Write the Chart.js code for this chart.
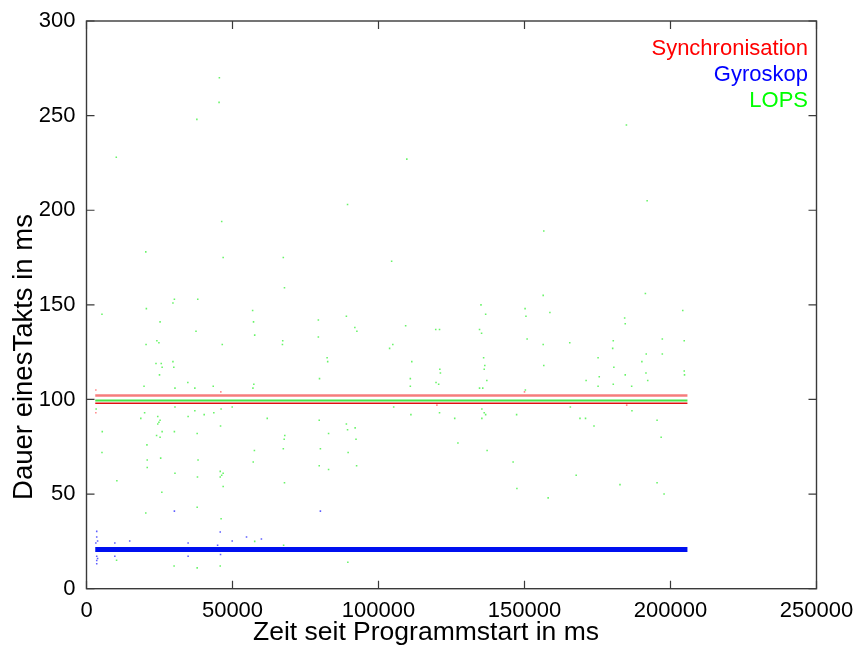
<!DOCTYPE html>
<html><head><meta charset="utf-8">
<script src="https://cdn.jsdelivr.net/npm/chart.js@4/dist/chart.umd.min.js"></script>
<style>html,body{margin:0;padding:0;background:#fff;}#wrap{width:858px;height:645px;}</style>
</head><body><div id="wrap"><canvas id="c" width="858" height="645"></canvas></div>
<script>
// ---- data ----
const seriesNames = ['Synchronisation', 'Gyroskop', 'LOPS'];
const xTickValues = [0, 50000, 100000, 150000, 200000, 250000];
const yTickValues = [0, 50, 100, 150, 200, 250, 300];
const xAxisTitle = 'Zeit seit Programmstart in ms';
const yAxisTitle = 'Dauer einesTakts in ms';
// time span of the dense recorded bands (start, end)
const recordingSpan = [3000, 205800];
// dense band levels (value at start, value at end)
const syncUpperBand = [102.1, 102.1];
const syncLowerBand = [98.0, 98.0];
const lopsBand = [99.5, 99.5];
const gyroBand = [20.7, 20.7];
// scattered single measurements [time, duration]
const syncOutliers = [[3200,105],[3200,93],[46000,104],[120000,97],[150000,104],[185000,97]];
const gyroOutliers = [[3500,30.3],[3500,27.3],[3800,25.2],[3200,24.1],[3500,17.1],[3800,16],[3500,14.9],[3500,13.2],
  [9700,24.1],[9700,17.1],[14800,25.2],[34800,24.1],[34800,17.1],[45800,30],[44900,23],[45900,18.1],
  [49900,25.2],[54800,27.3],[59900,26.3],[30100,41],[80100,41]];
const lopsOutliers = [
  [45500,270],[45400,257],[37800,248],[10200,228],[109700,227],[89400,203],[46300,194],[20300,178],[46800,175],[67400,175],
  [104500,173],[67800,159],[30100,153],[38100,153],[29600,151],[20500,148],[5300,145],[56900,147],[89000,144],[25200,141],
  [57200,141],[79400,142],[109300,139],[91900,138],[119600,137],[120900,137],[92600,136],[37500,136],[57600,134],[79400,133],
  [24100,131],[24800,130],[67200,131],[67100,129],[20400,129],[46500,129],[104900,129],[103800,127],[82400,122],[82600,120],
  [111400,120],[23800,119],[25600,119],[25900,117],[29600,120],[29900,117],[121000,116],[121200,114],[25000,113],[79800,111],
  [110900,111],[184900,245],[192000,205],[156600,189],[156400,155],[191400,156],[135100,150],[150200,148],[136700,145],[150500,144],
  [158700,146],[204200,147],[184300,143],[184500,140],[134600,137],[135300,135],[150900,132],[197200,132],[204700,131],[180400,131],
  [180200,127],[156400,129],[165500,130],[191700,124],[197200,124],[136000,122],[175200,122],[190200,120],[136400,118],[136200,116],
  [156600,118],[180600,117],[204700,115],[204800,113],[184500,113],[191600,114],[175600,112],
  [19700,107],[34700,109],[30300,106],[37100,106],[43400,107],[57300,108],[57000,106],[3300,95],[19900,93],[24400,91],
  [18600,90],[30300,96],[37100,94],[34800,91],[40300,92],[43600,93],[46100,95],[49900,96],[61900,90],
  [110900,107],[119700,109],[120600,108],[134600,106],[135700,106],[137100,110],[171100,110],[175200,107],[180400,108],[186700,107],
  [192200,110],[150300,105],[105200,96],[111100,92],[120900,93],[135400,95],[136200,93],[136700,92],[147300,92],[165700,96],
  [169000,90],[170900,90],[186800,94],[126100,90],[135400,90],
  [5400,83],[5300,72],[20700,76],[24000,81],[25200,80],[24400,87],[24800,88],[25200,89],[25900,83],[30100,83],
  [37900,82],[20800,68],[20800,64],[25400,69],[38200,68],[45900,86],[30300,61],[45800,62],[46800,61],[46300,60],
  [45800,59],[10400,57],[38000,59],[46800,54],[25800,51],[20300,40],[37900,43],[46100,37],[30000,12],[37900,11],
  [45800,12],[10300,15],[57600,25],[67500,23],[57500,73],[57100,67],[67400,74],[67800,56],[67900,81],[67700,79],
  [79700,89],[80100,74],[79700,65],[82900,63],[82900,82],[89000,87],[89400,84],[92000,85],[92300,79],[89600,72],
  [92500,65],[89500,14],
  [158100,48],[182700,55],[195400,56],[197800,50],[146100,67],[147400,53],[137200,73],[127200,77],[167700,60],[173800,86],
  [196800,80],[195400,89]
];

// ---- helpers ----
const toPts = arr => arr.map(p => ({x: p[0], y: p[1]}));
const band = vals => recordingSpan.map((t, i) => ({x: t, y: vals[i]}));
const seriesColors = ['#ff0000', '#0000ff', '#00ff00'];
const FONT = "'Liberation Sans', Arial, Helvetica, sans-serif";
Chart.defaults.font.family = FONT;

const PL = {left: 86.5, right: 816.5, top: 21, bottom: 588.7};

const framePlugin = {
  id: 'frame',
  afterDraw(chart) {
    const ctx = chart.ctx, a = chart.chartArea;
    const xs = chart.scales.x, ys = chart.scales.y;
    ctx.save();
    ctx.strokeStyle = '#3a3a3a';
    ctx.lineWidth = 1.4;
    ctx.strokeRect(a.left, a.top, a.right - a.left, a.bottom - a.top);
    ctx.lineWidth = 1.2;
    ctx.beginPath();
    const TL = 8;
    xTickValues.forEach(v => {
      const px = xs.getPixelForValue(v);
      ctx.moveTo(px, a.bottom); ctx.lineTo(px, a.bottom - TL);
      ctx.moveTo(px, a.top); ctx.lineTo(px, a.top + TL);
    });
    yTickValues.forEach(v => {
      const py = ys.getPixelForValue(v);
      ctx.moveTo(a.left, py); ctx.lineTo(a.left + TL, py);
      ctx.moveTo(a.right, py); ctx.lineTo(a.right - TL, py);
    });
    ctx.stroke();
    // legend
    ctx.font = '22px ' + FONT;
    ctx.textAlign = 'right';
    ctx.textBaseline = 'alphabetic';
    seriesNames.forEach((n, i) => {
      ctx.fillStyle = seriesColors[i];
      ctx.fillText(n, 808, 55 + i * 26);
    });
    // axis titles
    ctx.fillStyle = '#000';
    ctx.textAlign = 'center';
    ctx.font = '26.5px ' + FONT;
    ctx.fillText(xAxisTitle, 426, 640);
    ctx.font = '27.5px ' + FONT;
    ctx.translate(32, 357);
    ctx.rotate(-Math.PI / 2);
    ctx.fillText(yAxisTitle, 0, 0);
    ctx.restore();
  }
};

const dotStyle = (color, r) => ({
  showLine: false, pointStyle: 'rect', pointRadius: r, pointHoverRadius: r,
  backgroundColor: color, borderWidth: 0
});
const lineStyle = (color, w) => ({
  showLine: true, pointRadius: 0, borderColor: color, borderWidth: w, borderCapStyle: 'butt', fill: false
});

new Chart(document.getElementById('c'), {
  type: 'scatter',
  data: {
    datasets: [
      Object.assign({label: seriesNames[0], data: band(syncUpperBand)}, lineStyle('rgba(245,110,110,0.9)', 2.5)),
      Object.assign({label: seriesNames[0], data: band(syncLowerBand)}, lineStyle('#e01010', 1.6)),
      Object.assign({label: seriesNames[0], data: toPts(syncOutliers)}, dotStyle('rgba(255,60,60,0.6)', 1.1)),
      Object.assign({label: seriesNames[1], data: band(gyroBand)}, lineStyle('#0010f0', 5)),
      Object.assign({label: seriesNames[1], data: toPts(gyroOutliers)}, dotStyle('rgba(40,40,255,0.75)', 1.1)),
      Object.assign({label: seriesNames[2], data: band(lopsBand)}, lineStyle('rgba(40,225,40,0.85)', 2)),
      Object.assign({label: seriesNames[2], data: toPts(lopsOutliers)}, dotStyle('rgba(40,240,40,0.7)', 1.1))
    ]
  },
  options: {
    responsive: false, animation: false, devicePixelRatio: 1,
    layout: {padding: {left: 0, top: PL.top, right: 858 - PL.right, bottom: 0}},
    plugins: {legend: {display: false}, tooltip: {enabled: false}},
    scales: {
      x: {
        type: 'linear', min: 0, max: 250000,
        afterFit: s => { s.height = 645 - PL.bottom; s.paddingLeft = 0; s.paddingRight = 0; },
        afterBuildTicks: s => { s.ticks = xTickValues.map(v => ({value: v})); },
        grid: {display: false, drawTicks: false}, border: {display: false},
        ticks: {color: '#000', font: {size: 22}, padding: 9, maxRotation: 0, autoSkip: false,
                callback: v => String(v)}
      },
      y: {
        type: 'linear', min: 0, max: 300,
        afterFit: s => { s.width = PL.left; s.paddingTop = 0; s.paddingBottom = 0; },
        afterBuildTicks: s => { s.ticks = yTickValues.map(v => ({value: v})); },
        grid: {display: false, drawTicks: false}, border: {display: false},
        ticks: {color: '#000', font: {size: 22}, padding: 11, autoSkip: false,
                callback: v => String(v)}
      }
    }
  },
  plugins: [framePlugin]
});
</script></body></html>
